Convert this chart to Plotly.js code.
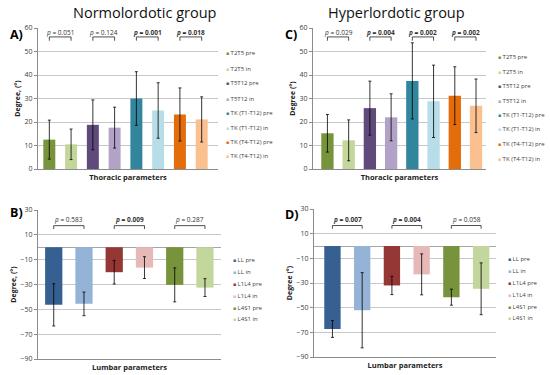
<!DOCTYPE html>
<html>
<head>
<meta charset="utf-8">
<script src="https://cdn.plot.ly/plotly-3.0.1.min.js"></script>
<style>html,body{margin:0;padding:0;background:#fff;}#chart{width:550px;height:375px;}</style>
</head>
<body>
<div id="chart"></div>
<script>
// ---- Data ----
const thorLabels = ['T2T5 pre','T2T5 in','T5T12 pre','T5T12 in','TK (T1-T12) pre','TK (T1-T12) in','TK (T4-T12) pre','TK (T4-T12) in'];
const thorColors = ['#77933c','#c3d69b','#604a7b','#b3a2c7','#31859c','#b7dee8','#e46c0a','#fac090'];
const normThorMeans = [12.5, 10.5, 18.8, 17.6, 30.0, 24.9, 23.2, 21.1];
const normThorSD    = [8.3, 6.5, 10.6, 8.7, 11.4, 11.8, 11.3, 9.6];
const hyperThorMeans = [15.2, 12.2, 25.9, 22.0, 37.5, 28.8, 31.2, 26.9];
const hyperThorSD    = [8.0, 8.7, 11.5, 10.0, 16.2, 15.4, 12.3, 11.4];

const lumbLabels = ['LL pre','LL in','L1L4 pre','L1L4 in','L4S1 pre','L4S1 in'];
const lumbColors = ['#376092','#95b3d7','#953735','#e6b9b8','#77933c','#c3d69b'];
const normLumbMeans = [-46.4, -45.6, -20.1, -16.4, -30.3, -32.5];
const normLumbSD    = [17.0, 9.5, 9.5, 8.8, 13.7, 7.2];
const hyperLumbMeans = [-67.3, -52.1, -32.0, -23.0, -41.5, -34.7];
const hyperLumbSD    = [6.8, 30.5, 7.4, 16.6, 6.5, 21.0];

const normThorP = ['0.051','0.124','0.001','0.018'];
const normThorSig = [false,false,true,true];
const hyperThorP = ['0.029','0.004','0.002','0.002'];
const hyperThorSig = [false,true,true,true];
const normLumbP = ['0.583','0.009','0.287'];
const normLumbSig = [false,true,false];
const hyperLumbP = ['0.007','0.004','0.058'];
const hyperLumbSig = [true,true,false];

// ---- Build ----
const FONT = 'Open Sans, Lato, sans-serif';
const W = 550, H = 375;
const panels = [
  {id:'', means:normThorMeans, sd:normThorSD, colors:thorColors, labels:thorLabels, p:normThorP, sig:normThorSig,
   px:[38,218], py:[28,169], yr:[0,60], dt:10, xr:[-0.52,7.75], bw:0.55, br:[56.2,54.6,58.2],
   ytitle:'Degree, (°)', xtitle:'Thoracic parameters', letter:'A)', lx:16, ly:34,
   legX:224, legY:[53,69,83,99,113,128,142,156]},
  {id:'2', means:hyperThorMeans, sd:hyperThorSD, colors:thorColors, labels:thorLabels, p:hyperThorP, sig:hyperThorSig,
   px:[313,486], py:[28,169], yr:[0,60], dt:10, xr:[-0.68,7.47], bw:0.58, br:[56.2,54.6,58.2],
   ytitle:'Degree (°)', xtitle:'Thoracic parameters', letter:'C)', lx:291, ly:34,
   legX:496, legY:[57,72,86,101,115,129,144,159]},
  {id:'3', means:normLumbMeans, sd:normLumbSD, colors:lumbColors, labels:lumbLabels, p:normLumbP, sig:normLumbSig,
   px:[38,221], py:[210,359], yr:[-90,30], dt:20, xr:[-0.52,5.53], bw:0.57, br:[17.4,14.7,22.0],
   ytitle:'Degree, (°)', xtitle:'Lumbar parameters', letter:'B)', lx:16, ly:213,
   legX:231, legY:[260,272,284,296,308,319]},
  {id:'4', means:hyperLumbMeans, sd:hyperLumbSD, colors:lumbColors, labels:lumbLabels, p:hyperLumbP, sig:hyperLumbSig,
   px:[314,496], py:[209,357], yr:[-90,30], dt:20, xr:[-0.62,5.5], bw:0.55, br:[16.6,14.0,21.3],
   ytitle:'Degree (°)', xtitle:'Lumbar parameters', letter:'D)', lx:292, ly:214,
   legX:506, legY:[259,271,283,295,307,318]}
];

const data = [], shapes = [], annotations = [];
const layout = {
  width: W, height: H, margin:{l:0,r:0,t:0,b:0},
  paper_bgcolor:'#fff', plot_bgcolor:'#fff', showlegend:false,
  font:{family:FONT, color:'#404040'}
};

panels.forEach(pn => {
  const xa = 'x'+pn.id, ya = 'y'+pn.id;
  const xi = pn.means.map((_,i)=>i);
  data.push({
    type:'bar', x:xi, y:pn.means, width:pn.bw, xaxis:xa, yaxis:ya,
    marker:{color:pn.colors, line:{width:0}},
    error_y:{type:'data', array:pn.sd, visible:true, color:'#000', thickness:0.8, width:1.5},
    hoverinfo:'y', name:pn.xtitle
  });
  const tv = [];
  for (let v = pn.yr[0]; v <= pn.yr[1]; v += pn.dt) tv.push(v);
  layout['xaxis'+pn.id] = {
    domain:[pn.px[0]/W, pn.px[1]/W], anchor:ya, range:pn.xr,
    showticklabels:false, ticks:'', showgrid:false, zeroline:false,
    showline:true, linecolor:'#8c8c8c', linewidth:1, fixedrange:true,
    title:{text:'<b>'+pn.xtitle+'</b>', font:{size:7.5, color:'#222', family:FONT}, standoff:5}
  };
  layout['yaxis'+pn.id] = {
    domain:[1-pn.py[1]/H, 1-pn.py[0]/H], anchor:xa, range:pn.yr,
    tickvals:tv, ticks:'outside', ticklen:3, tickcolor:'#8c8c8c', tickwidth:1,
    tickfont:{size:7, color:'#404040'},
    showgrid:true, gridcolor:'#c8c8c8', gridwidth:1,
    zeroline:pn.yr[0]<0, zerolinecolor:'#a6a6a6', zerolinewidth:1,
    showline:true, linecolor:'#8c8c8c', linewidth:1, fixedrange:true,
    title:{text:'<b>'+pn.ytitle+'</b>', font:{size:7, color:'#222', family:FONT}, standoff:3}
  };
  // p-value brackets between pre/in pairs
  pn.p.forEach((pv,k) => {
    const x1 = 2*k, x2 = 2*k+1;
    shapes.push({type:'path', xref:xa, yref:ya,
      path:`M${x1},${pn.br[1]}L${x1},${pn.br[0]}L${x2},${pn.br[0]}L${x2},${pn.br[1]}`,
      line:{color:'#222', width:0.8}});
    const txt = '<i>p</i> = '+pv;
    annotations.push({xref:xa, yref:ya, x:(x1+x2)/2, y:pn.br[2], showarrow:false,
      xanchor:'center', yanchor:'middle',
      text: pn.sig[k] ? '<b>'+txt+'</b>' : txt,
      font:{size:6.5, color:'#333', family:FONT}});
  });
  // panel letter
  annotations.push({xref:'paper', yref:'paper', x:pn.lx/W, y:1-pn.ly/H, showarrow:false,
    xanchor:'center', yanchor:'middle',
    text:'<b>'+pn.letter+'</b>', font:{size:12.5, color:'#000', family:FONT}});
  // legend
  pn.labels.forEach((lb,i) => {
    annotations.push({xref:'paper', yref:'paper', x:pn.legX/W, y:1-pn.legY[i]/H, xanchor:'left', yanchor:'middle',
      showarrow:false, text:'<span style="color:'+pn.colors[i]+';font-size:5px">■</span> '+lb,
      font:{size:6, color:'#404040', family:FONT}});
  });
});

annotations.push({xref:'paper', yref:'paper', x:145/W, y:1-13/H, xanchor:'center', yanchor:'middle', showarrow:false,
  text:'Normolordotic group', font:{size:14.5, color:'#111', family:FONT}});
annotations.push({xref:'paper', yref:'paper', x:396/W, y:1-13/H, xanchor:'center', yanchor:'middle', showarrow:false,
  text:'Hyperlordotic group', font:{size:14.5, color:'#111', family:FONT}});

layout.shapes = shapes;
layout.annotations = annotations;

Plotly.newPlot('chart', data, layout, {displayModeBar:false, staticPlot:true});
</script>
</body>
</html>
